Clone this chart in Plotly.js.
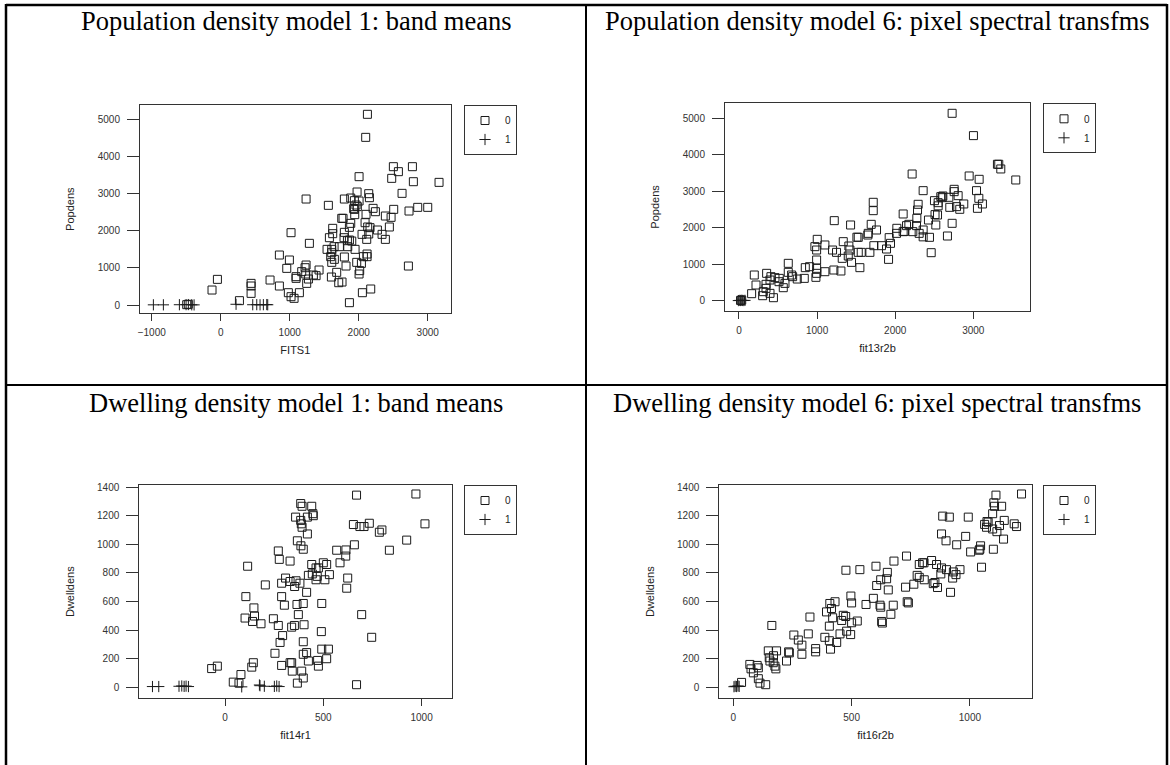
<!DOCTYPE html>
<html>
<head>
<meta charset="utf-8">
<script src="https://cdn.plot.ly/plotly-3.0.1.min.js"></script>
<style>html,body{margin:0;padding:0;background:#fff}#chart{width:1170px;height:765px}</style>
</head>
<body>
<div id="chart"></div>
<script>
// ---------- DATA ----------
const panelTitles = [
  "Population density model 1: band means",
  "Population density model 6: pixel spectral transfms",
  "Dwelling density model 1: band means",
  "Dwelling density model 6: pixel spectral transfms"
];
const xTitles = ["FITS1", "fit13r2b", "fit14r1", "fit16r2b"];
const yTitles = ["Popdens", "Popdens", "Dwelldens", "Dwelldens"];
const groupNames = ["0", "1"];

// Panel 1: Popdens vs FITS1
const p1_x0 = [2126,2101,2502,2778,2575,2478,2792,3164,2005,2628,1976,2145,2155,1237,1792,1884,1937,2005,1961,1980,1560,1927,1937,2507,2855,3000,2729,2208,2242,2106,1942,2386,2469,1754,1773,1623,1623,1884,1865,2092,2130,2164,2271,2444,2338,2386,2048,2116,2145,1792,1787,1865,1836,1899,1841,1947,1575,1541,1609,1643,1609,1594,1609,1647,1792,1720,1816,1971,2121,2121,2068,2039,2014,2005,1758,1710,1681,1604,2053,2174,1865,2720,1425,1343,1382,1285,1237,1222,1174,1232,1271,1246,1092,1092,1019,995,850,957,980,1019,1063,1140,850,715,440,440,440,271,-48,-126,-493,-470];
const p1_y0 = [5135,4515,3725,3725,3591,3411,3321,3303,3456,3007,3043,2998,2890,2854,2854,2881,2810,2801,2693,2650,2684,2594,2576,2576,2630,2630,2531,2603,2513,2442,2433,2397,2361,2334,2334,2065,1921,2199,2092,2217,2101,2083,2020,2101,1903,1768,1903,1768,1912,1957,1813,1750,1732,1723,1571,1499,1813,1499,1499,1571,1409,1302,1149,1230,1293,1571,1050,1149,1373,1302,1302,1122,925,835,619,601,880,754,332,431,63,1050,943,808,790,1661,1077,1005,898,835,700,583,763,718,1948,1212,1346,987,332,224,180,332,512,673,583,512,314,117,691,404,9,20];
const p1_x1 = [-976,-831,-599,-502,-469,-420,-386,222,464,522,570,618,667,681];
const p1_y1 = [5,5,8,10,12,6,4,20,8,10,6,9,12,7];

// Panel 2: Popdens vs fit13r2b
const p2_x0 = [2729,3002,3309,3326,3352,3544,2947,3075,2217,2358,2755,2755,3041,2806,2687,2584,2601,2610,3071,3117,3053,2878,2827,2699,2785,2503,2550,2550,2542,2510,2520,2729,2669,2461,2426,2439,2358,2358,2307,2286,2294,2277,2273,2226,2175,2145,2102,2102,2120,2021,2017,1923,1940,1889,1915,1825,1727,1761,1655,1650,1693,1719,1719,1676,1548,1565,1527,1527,1510,1429,1441,1420,1407,1399,1335,1322,1305,1249,1198,1220,1215,1100,1100,1002,994,972,994,994,994,985,904,849,746,836,674,687,631,631,589,516,512,461,409,397,354,346,346,311,397,441,218,196,162,303,567,20,35];
const p2_y0 = [5137,4525,3739,3739,3611,3309,3419,3327,3473,3016,3053,2989,3016,2879,2834,2852,2824,2870,2806,2651,2532,2651,2505,2559,2578,2742,2687,2600,2349,2360,2075,2121,1773,1316,2212,1737,1938,1750,1846,2486,2642,2258,2057,1892,2093,2057,2377,1892,1900,1984,1846,1728,1572,1417,1133,1508,1508,1938,1846,1800,2093,2468,2697,1325,905,1325,1325,1737,1740,2075,1051,1389,1499,1225,1618,1161,814,1325,1389,2194,841,1527,795,1682,1389,1481,1115,887,750,640,932,905,594,612,704,658,1024,777,475,612,521,631,658,567,750,448,338,247,201,82,430,704,192,137,356,8,15];
const p2_x1 = [-8,10,21,35,47,62,77];
const p2_y1 = [3,8,5,10,6,4,9];

// Panel 3: Dwelldens vs fit14r1
const p3_x0 = [669,971,385,392,441,447,449,359,385,388,392,419,419,368,386,398,924,836,785,798,1017,653,686,707,734,658,615,614,568,271,276,331,441,463,500,517,531,475,469,463,444,424,381,361,331,308,288,354,415,508,585,619,624,115,106,205,288,302,366,398,492,147,150,140,183,271,246,293,280,353,402,373,490,695,746,517,475,331,398,669,102,-68,-39,42,254,288,339,342,390,398,368,81,71,144,136,415,398,424,471,492,526,339];
const p3_y0 = [1345,1353,1286,1267,1267,1215,1201,1191,1168,1144,1120,1191,1073,1025,990,966,1030,959,1085,1101,1144,1139,1125,1125,1148,997,961,918,959,954,895,883,859,835,871,859,788,835,776,752,793,783,728,745,740,764,728,705,664,752,871,693,764,847,634,716,634,574,579,586,586,555,498,460,444,432,479,361,313,432,437,508,389,508,349,199,147,171,318,17,484,130,147,35,237,152,171,112,112,64,28,88,28,171,140,242,230,183,187,266,266,420];
const p3_x1 = [-369,-337,-234,-220,-208,-198,-186,85,175,178,200,251,263,275];
const p3_y1 = [4,4,6,8,5,7,4,2,15,10,6,5,8,4];

// Panel 4: Dwelldens vs fit16r2b
const p4_x0 = [1218,1110,1101,1104,1096,1134,885,913,993,880,899,944,982,1003,1039,1042,1045,1049,1070,1077,1072,1062,1096,1114,1125,1142,1099,1145,1187,1197,732,679,603,651,535,648,623,606,800,806,786,838,859,880,901,930,958,941,927,918,877,852,845,863,777,786,763,728,807,735,740,655,676,666,630,620,623,627,592,561,497,476,500,430,415,408,394,420,458,465,475,500,496,524,479,451,406,406,411,437,387,348,348,317,324,290,290,275,256,234,237,225,163,148,152,155,169,176,183,170,180,101,106,85,70,75,106,113,137,35];
const p4_y0 = [1353,1345,1291,1267,1215,1267,1198,1191,1191,1073,1025,997,1056,947,959,966,990,840,1120,1156,1160,1140,1108,1089,1132,1037,966,1168,1144,1125,918,883,847,804,823,759,752,712,871,871,859,887,859,835,823,807,823,788,764,664,793,733,725,698,783,769,721,700,752,598,590,681,574,510,449,574,560,460,622,579,638,819,590,598,551,586,527,486,467,503,495,451,368,463,392,373,427,325,266,313,349,270,247,373,491,294,230,330,365,247,240,183,432,254,206,183,171,147,254,220,128,152,135,100,159,128,59,28,17,33];
const p4_x1 = [3,8,14,20,25];
const p4_y1 = [3,6,4,8,5];

// ---------- LAYOUT CONSTANTS ----------
const W = 1170, H = 765;
const px = v => v / W;
const py = v => 1 - v / H;
// plot frame boxes in pixels [left, right, top, bottom]
const frames = [[140, 450.7, 105, 313.3], [725, 1030, 103.3, 310.5], [139.3, 451.7, 485, 698.3], [719.3, 1031.7, 485, 698.3]];
const xRanges = [[-1170, 3333], [-179, 3726], [-436, 1153], [-59, 1261]];
const yRanges = [[-223, 5386], [-269, 5411], [-78.3, 1416], [-78.3, 1416]];
const xTicks = [[-1000,0,1000,2000,3000],[0,1000,2000,3000],[0,500,1000],[0,500,1000]];
const yTicks = [[0,1000,2000,3000,4000,5000],[0,1000,2000,3000,4000,5000],[0,200,400,600,800,1000,1200,1400],[0,200,400,600,800,1000,1200,1400]];
const legendPos = [[464, 105], [1043, 103.3], [464, 485], [1043, 485]];
const titleCenters = [[296, 21], [877, 21], [296, 403], [877, 403]];

const data = [
  [p1_x0, p1_y0, p1_x1, p1_y1],
  [p2_x0, p2_y0, p2_x1, p2_y1],
  [p3_x0, p3_y0, p3_x1, p3_y1],
  [p4_x0, p4_y0, p4_x1, p4_y1]
];

const ink = '#1a1a1a';
const tickFont = {family: 'Liberation Sans, Arial, sans-serif', size: 10, color: '#333'};
const traces = [];
const layout = {
  width: W, height: H,
  margin: {l: 0, r: 0, t: 0, b: 0},
  paper_bgcolor: '#fff', plot_bgcolor: '#fff',
  showlegend: true,
  annotations: [], shapes: []
};

data.forEach((d, i) => {
  const n = i + 1;
  const xa = n === 1 ? 'x' : 'x' + n;
  const ya = n === 1 ? 'y' : 'y' + n;
  const lg = n === 1 ? 'legend' : 'legend' + n;
  traces.push({type: 'scatter', mode: 'markers', x: d[0], y: d[1], xaxis: xa, yaxis: ya,
    name: groupNames[0], legend: lg, cliponaxis: false,
    marker: {symbol: 'square-open', size: 8, color: ink, line: {width: 1, color: ink}}});
  traces.push({type: 'scatter', mode: 'markers', x: d[2], y: d[3], xaxis: xa, yaxis: ya,
    name: groupNames[1], legend: lg, cliponaxis: false,
    marker: {symbol: 'cross-thin-open', size: 8, color: ink, line: {width: 1, color: ink}}});
  const f = frames[i];
  const axBase = {showgrid: false, zeroline: false, showline: true, mirror: true,
    linecolor: '#333', linewidth: 1, ticks: 'outside', tickcolor: '#333', tickwidth: 1,
    tickfont: tickFont, fixedrange: true};
  layout['xaxis' + (n === 1 ? '' : n)] = Object.assign({}, axBase, {
    domain: [px(f[0]), px(f[1])], anchor: ya, range: xRanges[i], tickvals: xTicks[i],
    ticklen: 7, ticklabelstandoff: 3,
    title: {text: xTitles[i], standoff: 9, font: {family: 'Liberation Sans, Arial, sans-serif', size: 11, color: '#222'}}
  });
  layout['yaxis' + (n === 1 ? '' : n)] = Object.assign({}, axBase, {
    domain: [py(f[3]), py(f[2])], anchor: xa, range: yRanges[i], tickvals: yTicks[i],
    ticklen: 12, ticklabelstandoff: 5,
    title: {text: yTitles[i], standoff: 20, font: {family: 'Liberation Sans, Arial, sans-serif', size: 11, color: '#222'}}
  });
  layout[lg] = {x: px(legendPos[i][0]), y: py(legendPos[i][1]), xanchor: 'left', yanchor: 'top',
    bgcolor: '#fff', bordercolor: '#333', borderwidth: 1, tracegroupgap: 0, itemwidth: 30,
    font: {family: 'Liberation Sans, Arial, sans-serif', size: 10, color: '#222'}};
  layout.annotations.push({xref: 'paper', yref: 'paper', x: px(titleCenters[i][0]), y: py(titleCenters[i][1]),
    xanchor: 'center', yanchor: 'middle', showarrow: false, text: panelTitles[i],
    font: {family: 'Liberation Serif, Times New Roman, serif', size: 26.5, color: '#000'}});
});

// table grid lines
const gridLine = (x0, y0, x1, y1, w) => ({type: 'line', xref: 'paper', yref: 'paper',
  x0: px(x0), y0: py(y0), x1: px(x1), y1: py(y1), line: {color: '#000', width: w}});
layout.shapes.push(gridLine(6, 5, 1167, 5, 2.5));
layout.shapes.push(gridLine(6, 4, 6, 800, 2.5));
layout.shapes.push(gridLine(1167, 4, 1167, 800, 2.5));
layout.shapes.push(gridLine(586, 5, 586, 800, 2));
layout.shapes.push(gridLine(6, 385, 1167, 385, 2));

Plotly.newPlot('chart', traces, layout, {displayModeBar: false, staticPlot: true});
</script>
</body>
</html>
